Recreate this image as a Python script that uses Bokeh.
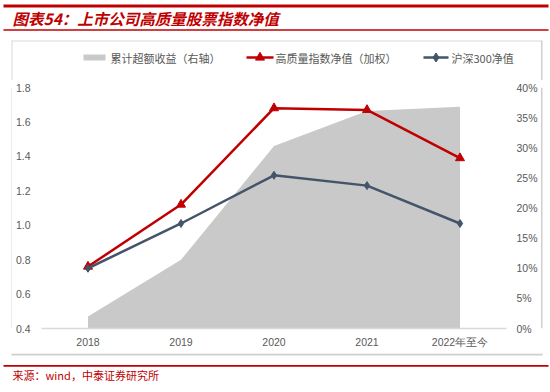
from bokeh.plotting import figure
from bokeh.layouts import column, row
from bokeh.models import (FactorRange, Range1d, LinearAxis, FixedTicker, NumeralTickFormatter,
                          ColumnDataSource)
from bokeh.core.properties import value
from bokeh.embed import file_html
from bokeh.resources import INLINE

# ---------------- data ----------------
years = ["2018", "2019", "2020", "2021", "2022年至今"]
hq_index = [0.76, 1.12, 1.68, 1.67, 1.39]      # 高质量指数净值（加权）
hs300 = [0.75, 1.01, 1.29, 1.23, 1.01]         # 沪深300净值
excess = [0.020, 0.114, 0.303, 0.361, 0.368]   # 累计超额收益（右轴）
left_ticks = [0.4, 0.6, 0.8, 1.0, 1.2, 1.4, 1.6, 1.8]
right_ticks = [0.0, 0.05, 0.10, 0.15, 0.20, 0.25, 0.30, 0.35, 0.40]

title_text = "图表54：上市公司高质量股票指数净值"
source_text = "来源：wind，中泰证券研究所"
legend_labels = ["累计超额收益（右轴）", "高质量指数净值（加权）", "沪深300净值"]

# ---------------- style ----------------
RED = "#C00000"
BLUE = "#44546A"
GREY = "#C9C9C9"
TXT = "#595959"
BOXC = "#D9D9D9"
SHADOW = "#CFCFCF"
FONT = "Noto Sans CJK SC"
W = 550
HEAD_H, MAIN_H, FOOT_H = 80, 273, 39
LSTRIP, RSTRIP = 12, 10
MAIN_W = W - LSTRIP - RSTRIP


def blank(w, h):
    f = figure(width=w, height=h, x_range=Range1d(0, w), y_range=Range1d(h, 0),
               x_axis_type=None, y_axis_type=None,
               output_backend="svg", toolbar_location=None,
               min_border_left=0, min_border_right=0, min_border_top=0, min_border_bottom=0)
    f.grid.visible = False
    f.outline_line_color = None
    return f


# ---------------- header: title + legend ----------------
head = blank(W, HEAD_H)
head.quad(left=[3], right=[548], top=[4], bottom=[7], fill_color=RED, line_color=None)
head.quad(left=[3], right=[548], top=[28.8], bottom=[30.3], fill_color=RED, line_color=None)
head.text(x=[12], y=[17.5], text=[title_text], text_font=value(FONT), text_font_style="bold italic",
          text_font_size="15.5px", text_color=RED, text_baseline="middle")
# chart box: top edge and upper part of the sides
head.quad(left=[11], right=[541], top=[40], bottom=[41], fill_color=BOXC, line_color=None)
head.quad(left=[11], right=[12], top=[40], bottom=[HEAD_H], fill_color=BOXC, line_color=None)
head.quad(left=[540.5], right=[542], top=[40], bottom=[HEAD_H], fill_color=SHADOW, line_color=None)
# legend
ly = 57
head.quad(left=[83], right=[105], top=[ly - 3], bottom=[ly + 3], fill_color=GREY, line_color=None)
head.segment(x0=[246], x1=[273], y0=[ly], y1=[ly], line_color=RED, line_width=2.5)
head.scatter(x=[259.5], y=[ly], marker="triangle", size=9, fill_color=RED, line_color=RED)
head.segment(x0=[423], x1=[448], y0=[ly], y1=[ly], line_color=BLUE, line_width=2.5)
head.scatter(x=[435.5], y=[ly], marker="diamond", size=9, fill_color=BLUE, line_color=BLUE)
head.text(x=[110, 275, 451], y=[ly + 0.5] * 3, text=legend_labels, text_font=value(FONT),
          text_font_size="11px", text_color=TXT, text_baseline="middle")

# ---------------- main chart ----------------
p = figure(width=MAIN_W, height=MAIN_H, x_range=FactorRange(factors=years, range_padding=0),
           y_range=Range1d(0.4, 1.8), output_backend="svg", toolbar_location=None,
           min_border_left=41 - LSTRIP, min_border_right=W - RSTRIP - 507,
           min_border_top=7, min_border_bottom=25)
p.extra_y_ranges = {"pct": Range1d(0, 0.40)}
p.outline_line_color = None
p.xgrid.visible = False
p.ygrid.visible = False

src = ColumnDataSource(dict(x=years, hq=hq_index, hs=hs300, ex=excess))
p.varea(x="x", y1=0, y2="ex", source=src, y_range_name="pct", fill_color=GREY)
p.line(x="x", y="hq", source=src, line_color=RED, line_width=2.5)
p.scatter(x="x", y="hq", source=src, marker="triangle", size=9, fill_color=RED, line_color=RED)
p.line(x="x", y="hs", source=src, line_color=BLUE, line_width=2.5)
p.scatter(x="x", y="hs", source=src, marker="diamond", size=8, fill_color=BLUE, line_color=BLUE)

ya = p.yaxis[0]
ya.ticker = FixedTicker(ticks=left_ticks)
ya.formatter = NumeralTickFormatter(format="0.0")
ya.major_label_standoff = 11

right = LinearAxis(y_range_name="pct", ticker=FixedTicker(ticks=right_ticks),
                   formatter=NumeralTickFormatter(format="0%"))
right.major_label_standoff = 10
p.add_layout(right, "right")

xa = p.xaxis[0]
xa.major_label_standoff = 7

for ax in [ya, right, xa]:
    ax.axis_line_color = None
    ax.major_tick_line_color = None
    ax.minor_tick_line_color = None
    ax.major_tick_out = 0
    ax.major_tick_in = 0
    ax.minor_tick_out = 0
    ax.major_label_text_color = TXT
    ax.major_label_text_font_size = "10.5px"
xa.axis_line_color = BOXC
xa.axis_line_width = 1.5

# side strips carrying the chart box edges
lstrip = blank(LSTRIP, MAIN_H)
lstrip.quad(left=[11], right=[12], top=[0], bottom=[MAIN_H], fill_color=BOXC, line_color=None)
rstrip = blank(RSTRIP, MAIN_H)
rstrip.quad(left=[0.5], right=[2], top=[0], bottom=[MAIN_H], fill_color=SHADOW, line_color=None)

# ---------------- footer: source ----------------
foot = blank(W, FOOT_H)
foot.quad(left=[11], right=[12], top=[0], bottom=[1], fill_color=BOXC, line_color=None)
foot.quad(left=[540.5], right=[542], top=[0], bottom=[1], fill_color=SHADOW, line_color=None)
foot.quad(left=[11], right=[542], top=[0], bottom=[2], fill_color=SHADOW, line_color=None)
foot.quad(left=[3], right=[548], top=[11.5], bottom=[13.2], fill_color=RED, line_color=None)
foot.text(x=[12], y=[21.5], text=[source_text], text_font=value(FONT),
          text_font_size="11px", text_color=RED, text_baseline="middle")

layout = column(head, row(lstrip, p, rstrip, spacing=0), foot, spacing=0)
open("out.html", "w").write(file_html(layout, INLINE))
